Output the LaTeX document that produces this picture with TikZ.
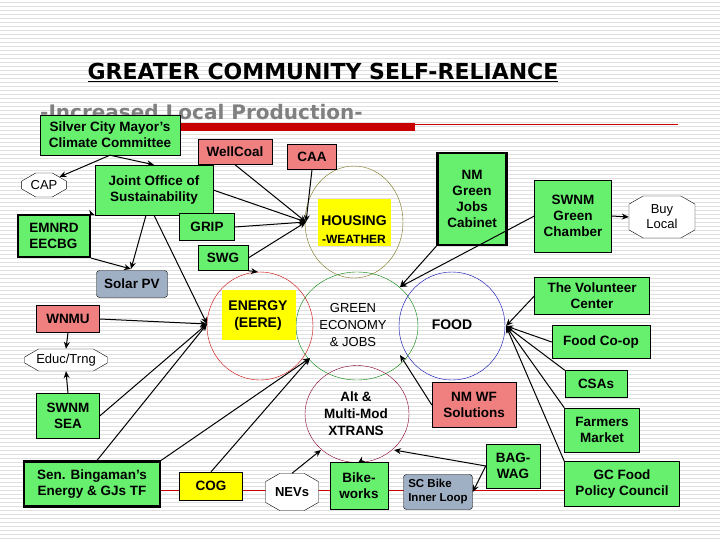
\documentclass[tikz,border=0pt]{standalone}
\usepackage{fontspec}
\setmainfont{Liberation Sans}
\newfontfamily\ttlfont{DejaVu Sans}
\usetikzlibrary{shapes.geometric,shapes.misc,arrows.meta}
\definecolor{gbox}{RGB}{102,240,110}
\definecolor{rbox}{RGB}{240,128,128}
\definecolor{ybox}{RGB}{255,255,0}
\definecolor{sbox}{RGB}{160,176,196}
\definecolor{ttl}{RGB}{128,128,128}
\definecolor{bar}{RGB}{200,0,0}
\tikzset{
 base/.style={draw=black,font=\bfseries\fontsize{13.5}{16}\selectfont,align=center,inner sep=1pt},
 gb/.style={base,fill=gbox},
 rb/.style={base,fill=rbox},
 yb/.style={base,fill=ybox},
 sb/.style={base,fill=sbox,rounded corners=3pt},
 thk/.style={line width=2.2pt},
 hex/.style={base,fill=white,chamfered rectangle,chamfered rectangle angle=60,chamfered rectangle xsep=8pt,inner sep=1pt,font=\fontsize{13}{15}\selectfont},
 con/.style={draw=black,line width=1pt,-{Stealth[length=7pt,width=6pt]}},
}
\begin{document}
\begin{tikzpicture}[x=1pt,y=-1pt]
\useasboundingbox (0,0) rectangle (720,540);
\fill[white] (0,0) rectangle (720,540);
\foreach \i in {2,6,...,538} \draw[black!12,line width=0.6pt] (0,\i) -- (720,\i);
% title
\node (title) at (323,72) {\ttlfont\bfseries\fontsize{22}{24}\selectfont\underline{GREATER COMMUNITY SELF-RELIANCE}};
\fill[bar] (180,123) rectangle (415,131);
\draw[bar,line width=0.8pt] (415,124) -- (678,124);
\node[anchor=west,text=ttl,inner sep=0pt] (sub) at (40,112) {\ttlfont\bfseries\fontsize{20}{22}\selectfont -Increased Local Production-};
% circles
\node[draw=olive!80!black,ellipse,minimum width=98pt,minimum height=112pt] (hous) at (354,222) {};
\node[draw=red!80!black,ellipse,minimum width=106pt,minimum height=108pt] (ener) at (260,326) {};
\node[draw=green!50!black,ellipse,minimum width=122pt,minimum height=108pt] (gree) at (357,326) {};
\node[draw=blue!70!black,ellipse,minimum width=106pt,minimum height=108pt] (food) at (452,326) {};
\node[draw=purple!70!black,ellipse,minimum width=104pt,minimum height=97pt] (alt) at (357,414) {};
\fill[ybox] (318,199) rectangle (391,246);
\fill[ybox] (222,290) rectangle (296,340);
\node[font=\bfseries\fontsize{14}{16}\selectfont] (houst) at (354,221) {HOUSING};
\node[font=\bfseries\fontsize{12}{14}\selectfont] (housw) at (354,239) {-WEATHER};
\node[font=\bfseries\fontsize{14}{17}\selectfont,align=center] (enert) at (258,316) {ENERGY\\(EERE)};
\node[font=\rmfamily\fontsize{13}{17}\selectfont,align=center] (greet) at (353,325) {GREEN\\ECONOMY\\\& JOBS};
\node[font=\bfseries\fontsize{14}{16}\selectfont] (foodt) at (452,325) {FOOD};
\node[font=\bfseries\fontsize{13.5}{17}\selectfont,align=center] (altt) at (356,414) {Alt \&\\Multi-Mod\\XTRANS};
% red bottom line
\draw[bar,line width=0.7pt] (160,490) -- (680,490);
% boxes
\node[gb,minimum width=140pt,minimum height=40pt] (scm) at (110,135) {Silver City Mayor's\\Climate Committee};
\node[rb,minimum width=74pt,minimum height=25pt] (well) at (235,152) {WellCoal};
\node[rb,minimum width=49pt,minimum height=25pt] (caa) at (312,157) {CAA};
\node[hex,minimum width=42pt,minimum height=24pt] (cap) at (44,185) {CAP};
\node[gb,minimum width=118pt,minimum height=50pt] (joint) at (154,190) {Joint Office of\\Sustainability};
\node[gb,thk,minimum width=72pt,minimum height=42pt,align=left] (emn) at (54,236) {EMNRD\\EECBG};
\node[gb,minimum width=55pt,minimum height=27pt] (grip) at (207,227) {GRIP};
\node[gb,minimum width=50pt,minimum height=25pt] (swg) at (223,258) {SWG};
\node[gb,thk,minimum width=69pt,minimum height=92pt] (nmg) at (472,199) {NM\\Green\\Jobs\\Cabinet};
\node[gb,minimum width=77pt,minimum height=72pt] (chm) at (573,216) {SWNM\\Green\\Chamber};
\node[hex,minimum width=66pt,minimum height=42pt] (buy) at (662,217) {Buy\\Local};
\node[sb,minimum width=71pt,minimum height=27pt] (sol) at (132,284) {Solar PV};
\node[rb,minimum width=63pt,minimum height=27pt] (wnmu) at (68,319) {WNMU};
\node[hex,minimum width=83pt,minimum height=22pt] (educ) at (66,360) {Educ/Trng};
\node[gb,minimum width=63pt,minimum height=45pt] (sea) at (68,416) {SWNM\\SEA};
\node[gb,thk,minimum width=136pt,minimum height=45pt] (sen) at (92,484) {Sen. Bingaman's\\Energy \& GJs TF};
\node[gb,minimum width=115pt,minimum height=37pt] (vol) at (592,296) {The Volunteer\\Center};
\node[gb,minimum width=98pt,minimum height=33pt] (coop) at (601,342) {Food Co-op};
\node[gb,minimum width=62pt,minimum height=27pt] (csa) at (596,384) {CSAs};
\node[gb,minimum width=75pt,minimum height=44pt] (farm) at (602,430) {Farmers\\Market};
\node[gb,minimum width=115pt,minimum height=45pt] (gcf) at (622,484) {GC Food\\Policy Council};
\node[rb,minimum width=84pt,minimum height=45pt] (nmwf) at (474,405) {NM WF\\Solutions};
\node[gb,minimum width=54pt,minimum height=44pt] (bag) at (513,466) {BAG-\\WAG};
\node[sb,minimum width=69pt,minimum height=35pt,font=\bfseries\fontsize{11.5}{14}\selectfont,align=left] (scb) at (438,492) {SC Bike\\Inner Loop};
\node[gb,minimum width=58pt,minimum height=47pt] (bike) at (359,486) {Bike-\\works};
\node[hex,minimum width=53pt,minimum height=37pt,font=\bfseries\fontsize{13}{15}\selectfont] (nev) at (292,492) {NEVs};
\node[yb,minimum width=63pt,minimum height=28pt] (cog) at (211,486) {COG};
% convergence points
\coordinate (hp) at (306,222);
\coordinate (sp) at (131,269);
\coordinate (ep) at (207,324);
\coordinate (et) at (258,272);
\coordinate (gt) at (400,287);
\coordinate (gbl) at (310,358);
\coordinate (gbr) at (400,355);
\coordinate (fp) at (506,326);
\coordinate (abl) at (321,450);
\coordinate (abm) at (358,463);
\coordinate (abr) at (394,450);
% connectors
\draw[con] (scm.south) -- (cap.north east);
\draw[con] (scm.south) -- (joint.north);
\draw[con] (emn.north east) -- (joint.south west);
\draw[con] (joint.east) -- (hp);
\draw[con] (well.south) -- (hp);
\draw[con] (caa.south) -- (hp);
\draw[con] (grip.east) -- (hp);
\draw[con] (swg.east) -- (hp);
\draw[con] (emn.south east) -- (sp);
\draw[con] (joint.south) ++(-8,0) -- (sp);
\draw[con] (joint.south) -- (ep);
\draw[con] (wnmu.east) -- (ep);
\draw[con] (sea.east) -- (ep);
\draw[con] (sen.north) ++(5,0) -- (ep);
\draw[con] (swg.south east) -- (et);
\draw[con] (nmg.south west) -- (gt);
\draw[con] (chm.west) -- (gt);
\draw[con] (chm.east) -- (buy.west);
\draw[con] (vol.west) -- (fp);
\draw[con] (coop.west) -- (fp);
\draw[con] (csa.north west) -- (fp);
\draw[con] (farm.north west) -- (fp);
\draw[con] (gcf.north west) -- (fp);
\draw[con] (sen.north east) -- (gbl);
\draw[con] (cog.north) -- (gbl);
\draw[con] (nmwf.west) -- (gbr);
\draw[con] (nev.north) -- (abl);
\draw[con] (bike.north) -- (abm);
\draw[con] (bag.west) -- (abr);
\draw[con] (bag.west) -- (scb.east);
\draw[con] (wnmu.south) -- (educ.north);
\draw[con] (sea.north) -- (educ.south);
\end{tikzpicture}
\end{document}
